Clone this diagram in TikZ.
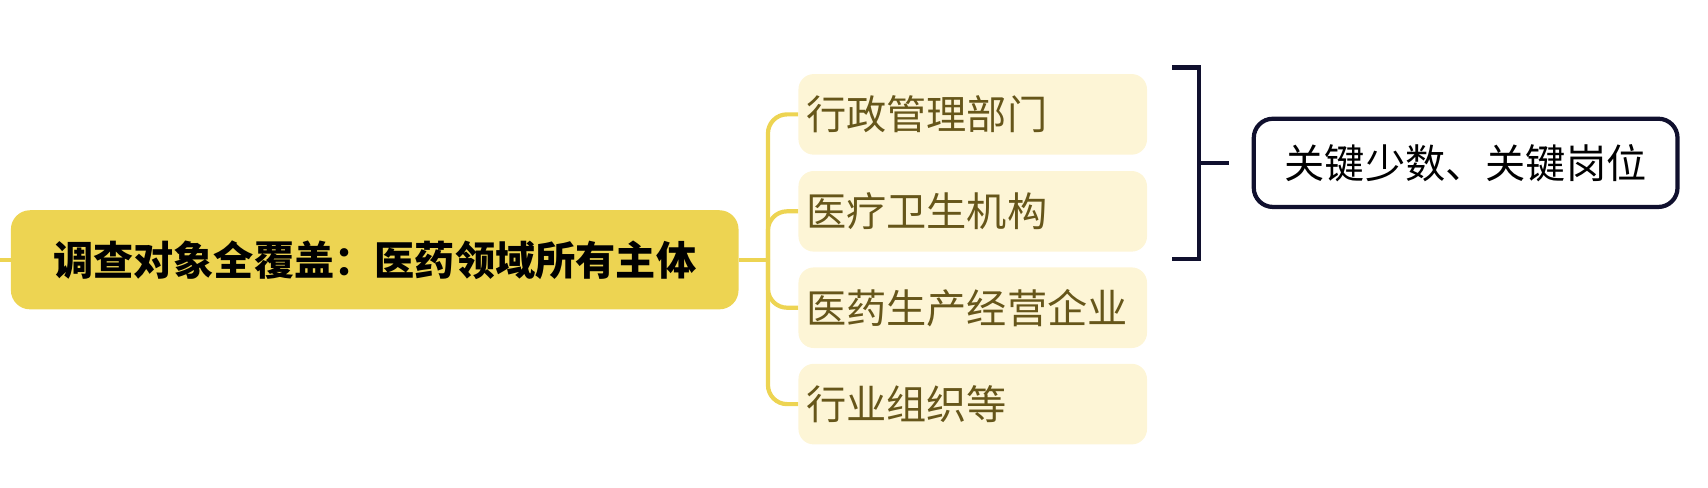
\documentclass[tikz,border=0pt]{standalone}
\usepackage{fontspec}
\newfontfamily\cjk{Noto Sans CJK SC}
\begin{document}
\begin{tikzpicture}[x=0.02cm,y=-0.02cm,
  child/.style={fill=childfill,rounded corners=8pt,minimum width=320*0.02cm,minimum height=74*0.02cm,text=childtext,font=\cjk\fontsize{21}{24}\selectfont,align=left,text width=306*0.02cm,inner sep=0pt},
  conn/.style={draw=linec,line width=2.2pt,rounded corners=10pt}]
\definecolor{mainfill}{HTML}{EDD452}
\definecolor{childfill}{HTML}{FDF5D6}
\definecolor{childtext}{HTML}{66561A}
\definecolor{linec}{HTML}{EDD452}
\definecolor{navy}{HTML}{10102E}
\useasboundingbox (0,0) rectangle (1568,448);
\node[fill=mainfill,rounded corners=10pt,minimum width=668*0.02cm,minimum height=91*0.02cm,font=\cjk\bfseries\fontsize{21}{24}\selectfont,inner sep=0pt] (main) at (344,238.5) {调查对象全覆盖：医药领域所有主体};
\coordinate (l) at (0,238.5);
\draw[conn] (l) -- (main.west);
\node[child] (c1) at (893,105) {行政管理部门};
\node[child] (c2) at (893,194) {医疗卫生机构};
\node[child] (c3) at (893,282.5) {医药生产经营企业};
\node[child] (c4) at (893,371) {行业组织等};
\draw[conn] (main.east) -- (705,238.5);
\draw[conn] (c1.west) -- (705,105) -- (705,238.5);
\draw[conn] (c4.west) -- (705,371) -- (705,238.5);
\draw[conn] (c2.west) -- (705,194) -- (705,238.5);
\draw[conn] (c3.west) -- (705,282.5) -- (705,238.5);
\coordinate (b1) at (1076,62);
\coordinate (b2) at (1076,238);
\draw[navy,line width=2.2pt] (b1) -- (1101,62) -- (1101,238) -- (b2);
\node[draw=navy,line width=2.2pt,fill=white,rounded corners=10pt,minimum width=389*0.02cm,minimum height=81*0.02cm,font=\cjk\fontsize{21}{24}\selectfont,inner sep=0pt] (r) at (1345.5,149.5) {关键少数、关键岗位};
\draw[navy,line width=2.2pt] (1101,150) -- (1128,150);
\end{tikzpicture}
\end{document}
